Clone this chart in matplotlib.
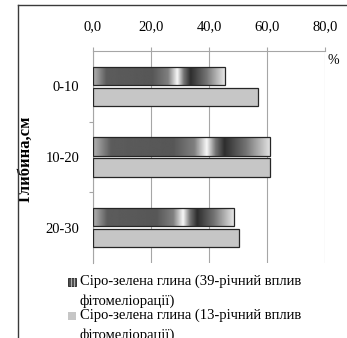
import numpy as np
import matplotlib
matplotlib.use('Agg')
import matplotlib.pyplot as plt
from matplotlib.patches import Rectangle
from matplotlib.lines import Line2D
from matplotlib.ticker import FuncFormatter, FixedLocator

# data
depths = ['0-10', '10-20', '20-30']
clay_39y = [45.4, 61.1, 48.5]
clay_13y = [56.8, 60.9, 50.3]
series_labels = ['Сіро-зелена глина (39-річний вплив\nфітомеліорації)',
                 'Сіро-зелена глина (13-річний вплив\nфітомеліорації)']
x_ticks = [0, 20, 40, 60, 80]

plt.rcParams['font.family'] = ['Liberation Serif', 'DejaVu Serif']

W, H = 347, 338
fig = plt.figure(figsize=(W / 100, H / 100), dpi=100)
ax = fig.add_axes([93 / W, 1 - 263 / H, (325 - 93) / W, (263 - 51) / H])

grid_c = '#a6a6a6'
edge_c = '#262626'
light_c = '#c6c6c6'

y = np.arange(len(depths))
h = 0.26
off = 0.148
bars_dark = ax.barh(y - off, clay_39y, height=h, color='none', edgecolor=edge_c, linewidth=0.9, zorder=3)
ax.barh(y + off, clay_13y, height=h, color=light_c, edgecolor=edge_c, linewidth=0.9, zorder=3)

# chrome-like horizontal gradient inside the dark bars
stops = [0.0, 0.10, 0.45, 0.57, 0.64, 0.69, 0.74, 0.86, 1.0]
levels = [0.70, 0.36, 0.34, 0.50, 0.97, 0.45, 0.18, 0.45, 0.90]
t = np.linspace(0, 1, 300)
grad = np.interp(t, stops, levels)[None, :]
for p in bars_dark:
    x0, y0 = p.get_x(), p.get_y()
    w, hh = p.get_width(), p.get_height()
    im = ax.imshow(grad, cmap='gray', vmin=0, vmax=1, aspect='auto',
                   extent=(x0, x0 + w, y0 + hh, y0), zorder=2.5, interpolation='bilinear')
    im.set_clip_path(p)

ax.set_xlim(0, 80)
ax.set_ylim(2.5, -0.5)

ax.xaxis.tick_top()
ax.set_xticks(x_ticks)
ax.xaxis.set_major_formatter(FuncFormatter(lambda v, _: f'{v:.1f}'.replace('.', ',')))
ax.tick_params(axis='x', which='major', length=3, width=0.8, color=grid_c, pad=10, labelsize=10.5)
ax.grid(axis='x', color=grid_c, linewidth=0.8, zorder=0)

ax.set_yticks(y)
ax.set_yticklabels(depths)
ax.yaxis.set_minor_locator(FixedLocator([0.5, 1.5]))
ax.tick_params(axis='y', which='major', length=0, pad=10, labelsize=10.5)
ax.tick_params(axis='y', which='minor', length=3, width=0.8, color=grid_c)

for s in ['right', 'bottom']:
    ax.spines[s].set_visible(False)
for s in ['top', 'left']:
    ax.spines[s].set_color(grid_c)
    ax.spines[s].set_linewidth(0.8)

ax.set_ylabel('Глибина,см', fontweight='bold', fontsize=12)
ax.yaxis.set_label_coords((34 - 93) / 232, 0.49)
ax.text(1.012, 0.985, '%', transform=ax.transAxes, ha='left', va='top', fontsize=10)

# chart frame (left and top edges visible)
fig.add_artist(Line2D([18 / W, 18 / W], [0, 1 - 5 / H], color='#3a3a3a', linewidth=1.0))
fig.add_artist(Line2D([18 / W, 1], [1 - 5 / H, 1 - 5 / H], color='#3a3a3a', linewidth=1.0))

# legend drawn by hand so the marker sits on the first line
leg_top = [275, 309]
for i, lab in enumerate(series_labels):
    yt = leg_top[i]
    sq = (68 / W, 1 - (yt + 11) / H)
    if i == 0:
        fig.add_artist(Rectangle(sq, 8 / W, 8 / H, facecolor='#505050',
                                 edgecolor='#202020', linewidth=0.6, transform=fig.transFigure))
        for xs in (70.5, 73.5):
            fig.add_artist(Line2D([xs / W, xs / W], [1 - (yt + 11) / H, 1 - (yt + 3) / H],
                                  color='#b0b0b0', linewidth=0.7))
    else:
        fig.add_artist(Rectangle(sq, 8 / W, 8 / H, facecolor=light_c,
                                 edgecolor='none', transform=fig.transFigure))
    fig.text(80 / W, 1 - yt / H, lab, ha='left', va='top', fontsize=10.5, linespacing=1.6)

fig.savefig('out.png', dpi=100)
